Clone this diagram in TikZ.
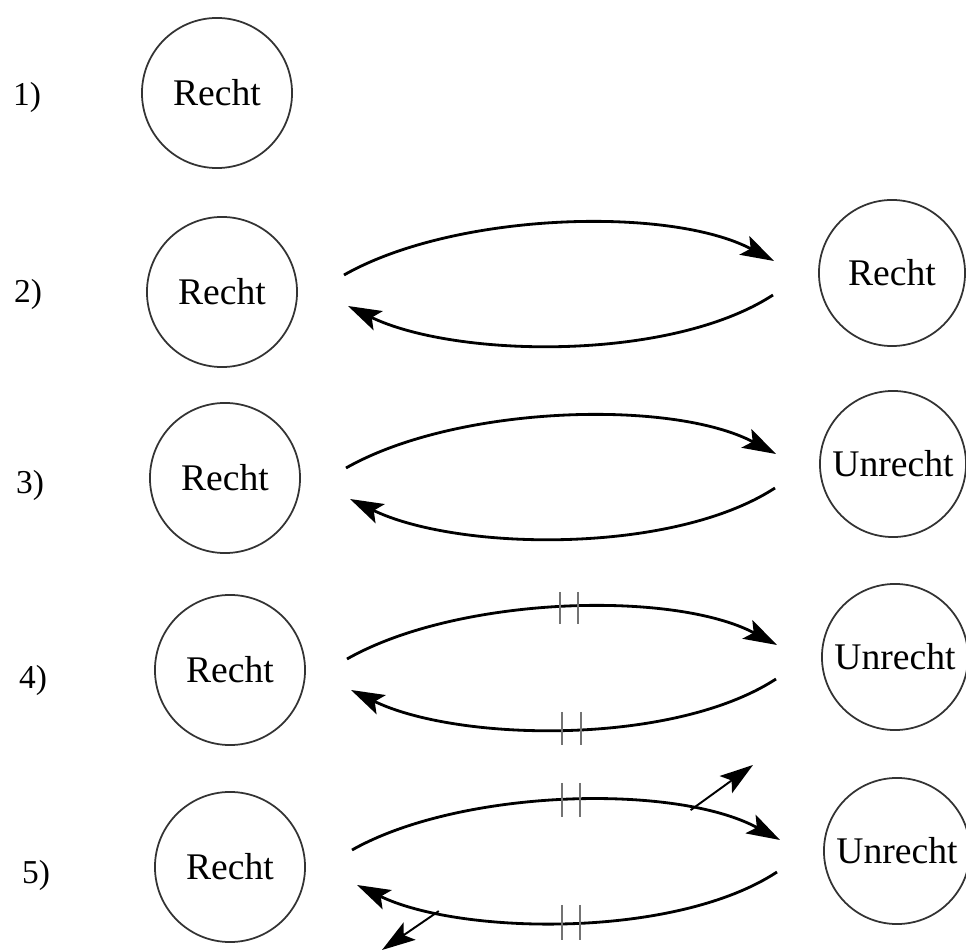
\documentclass[tikz,border=0pt]{standalone}
\usepackage{fontspec}
\setmainfont{Liberation Serif}
\usetikzlibrary{arrows.meta}
\begin{document}
\begin{tikzpicture}[x=0.01cm,y=-0.01cm,
  circ/.style={draw=black!80, line width=0.5pt, circle, inner sep=0pt,
    font=\fontsize{10.7}{12}\selectfont},
  lcirc/.style={circ, minimum size=1.5cm},
  rcirc/.style={circ, minimum size=1.46cm},
  lab/.style={font=\fontsize{9.5}{11}\selectfont, inner sep=0pt},
  arc/.style={line width=0.8pt, -{Stealth[length=9.5pt,width=6pt,inset=2pt]}},
  branch/.style={line width=0.55pt, -{Stealth[length=9.5pt,width=6pt,inset=2pt]}},
  bar/.style={draw=black!55, line width=0.45pt}]
\useasboundingbox (0,0) rectangle (966,952);

% row labels
\node[lab] (n1) at (27,97) {1)};
\node[lab] (n2) at (28,294) {2)};
\node[lab] (n3) at (30,485) {3)};
\node[lab] (n4) at (33,680) {4)};
\node[lab] (n5) at (36,875) {5)};

% left circles
\node[lcirc] (L1) at (217,93) {Recht};
\node[lcirc] (L2) at (222,292) {Recht};
\node[lcirc] (L3) at (225,478) {Recht};
\node[lcirc] (L4) at (230,670) {Recht};
\node[lcirc] (L5) at (230,867) {Recht};

% right circles
\node[rcirc] (R2) at (892,273) {Recht};
\node[rcirc] (R3) at (893,464) {Unrecht};
\node[rcirc] (R4) at (895,657) {Unrecht};
\node[rcirc] (R5) at (897,851) {Unrecht};

% loops
\foreach \r/\cx/\cy in {2/560/284, 3/562/477, 4/563/668} {
  \begin{scope}[shift={(\cx,\cy)}]
    \coordinate (ts\r) at (-216,-9);
    \coordinate (te\r) at (214,-23);
    \coordinate (bs\r) at (213,11);
    \coordinate (be\r) at (-212,22);
    \draw[arc] (ts\r) .. controls (-105,-72) and (110,-78) .. (te\r);
    \draw[arc] (bs\r) .. controls (110,78) and (-105,74) .. (be\r);
  \end{scope}
}

% row 5 loop with branches
\begin{scope}[shift={(565,861)}]
  \coordinate (ts5) at (-213,-11);
  \coordinate (te5) at (215,-21);
  \coordinate (bs5) at (212,11);
  \coordinate (be5) at (-208,24);
  \coordinate (xt5) at (188,-96);
  \coordinate (xb5) at (-183,89);
  \draw[arc] (ts5) .. controls (-105,-72) and (110,-78) .. coordinate[pos=0.765] (bt5) (te5);
  \draw[arc] (bs5) .. controls (110,78) and (-105,74) .. coordinate[pos=0.78] (bb5) (be5);
  \draw[branch] (bt5) -- (xt5);
  \draw[branch] (bb5) -- (xb5);
  % interruption bars
  \draw[bar] (-3,-78) -- (-3,-44);
  \draw[bar] (15,-78) -- (15,-44);
  \draw[bar] (-3,44) -- (-3,79);
  \draw[bar] (15,44) -- (15,79);
\end{scope}

% row 4 interruption bars
\begin{scope}[shift={(563,668)}]
  \draw[bar] (-3,-76) -- (-3,-44);
  \draw[bar] (15,-76) -- (15,-44);
  \draw[bar] (-1,44) -- (-1,77);
  \draw[bar] (18,44) -- (18,77);
\end{scope}
\end{tikzpicture}
\end{document}
